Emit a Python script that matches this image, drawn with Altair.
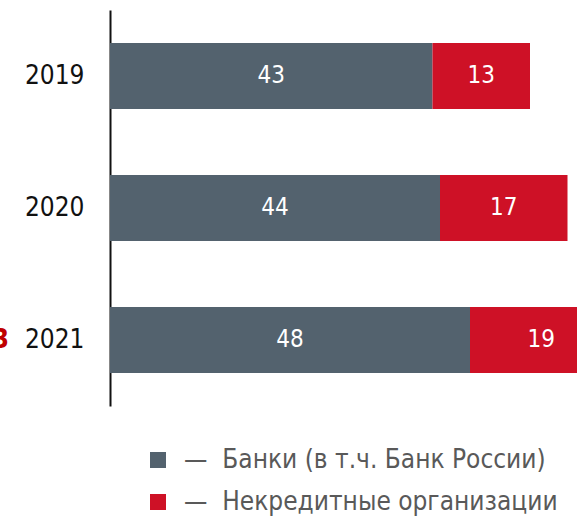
import altair as alt
import pandas as pd

years = ["2019", "2020", "2021"]
banks = [43, 44, 48]
nonbanks = [13, 17, 19]
series = ["Банки (в т.ч. Банк России)", "Некредитные организации"]
colors = ["#53626e", "#ce1126"]
side_note = ["3"]
side_year = ["2021"]

FONT = "DejaVu Sans Condensed, DejaVu Sans"

rows = []
for i, y in enumerate(years):
    rows.append({"year": y, "series": series[0], "value": banks[i], "k": 0})
    rows.append({"year": y, "series": series[1], "value": nonbanks[i], "k": 1})
df = pd.DataFrame(rows)

PX_PER_UNIT = 7.5
W, H = 467, 396

xscale = alt.Scale(domain=[0, W / PX_PER_UNIT], nice=False, zero=True)
yscale = alt.Scale(domain=years, paddingInner=0.5, paddingOuter=0.25)

base = alt.Chart(df).transform_stack(
    stack="value", as_=["x0", "x1"], groupby=["year"], sort=[alt.SortField("k")]
).transform_calculate(mid="(datum.x0 + datum.x1) / 2")

bars = base.mark_bar(clip=True).encode(
    x=alt.X("x0:Q", scale=xscale, axis=None),
    x2="x1:Q",
    y=alt.Y(
        "year:N",
        scale=yscale,
        axis=alt.Axis(
            title=None, ticks=False, domainColor="#111111", domainWidth=2,
            labelFontSize=26, labelColor="#111111", labelFont=FONT,
            labelPadding=26, grid=False,
        ),
    ),
    color=alt.Color(
        "series:N",
        scale=alt.Scale(domain=series, range=colors),
        legend=alt.Legend(
            title=None, orient="none", legendX=35, legendY=437,
            symbolType="square", symbolSize=256, symbolStrokeWidth=0,
            labelFontSize=26, labelFont=FONT, labelColor="#595959",
            labelOffset=13, rowPadding=16, padding=0, labelLimit=600,
            direction="vertical",
            labelExpr="'—\u00a0\u00a0' + datum.label",
        ),
    ),
)

labels = base.mark_text(
    color="white", fontSize=24, font=FONT, baseline="middle", align="center"
).encode(
    x=alt.X("mid:Q", scale=xscale),
    y=alt.Y("year:N", scale=yscale),
    text="value:Q",
)

note = alt.Chart(pd.DataFrame({"year": side_year, "t": side_note})).mark_text(
    color="#c00000", fontSize=26, font=FONT, align="right", baseline="middle", fontWeight="bold"
).encode(
    x=alt.value(-101),
    y=alt.Y("year:N", scale=yscale),
    text="t:N",
)

chart = alt.layer(bars, labels, note).properties(
    width=W, height=H,
    background="white",
    autosize=alt.AutoSizeParams(type="none"),
    padding={"left": 110, "top": 10, "right": 0, "bottom": 111},
).configure_view(stroke=None)

chart.save("out.html", embed_options={"renderer": "svg", "actions": False})
